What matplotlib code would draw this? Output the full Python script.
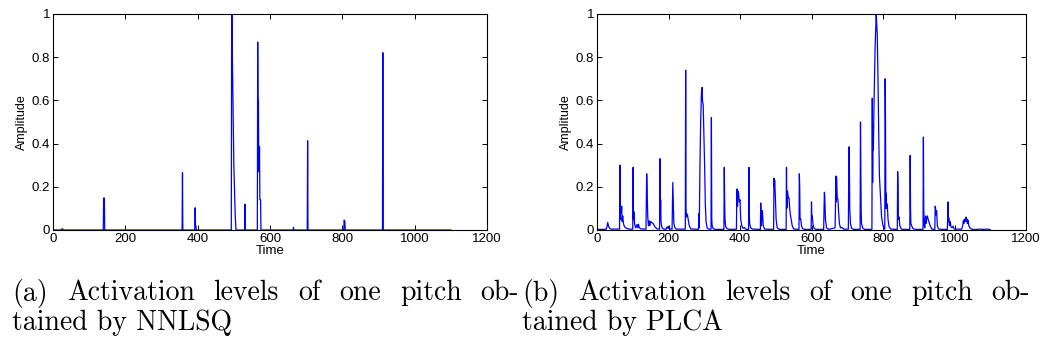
import matplotlib.pyplot as plt

# NNLSQ activations (frame, amplitude) vertices
nnlsq_t = [0, 23, 24, 27, 28, 139, 140, 142, 143, 357, 358, 359, 392, 393, 394, 395, 396,
           493, 494, 495, 496, 500, 504, 506, 530, 531, 532, 565, 566, 567, 568, 569, 570,
           571, 572, 574, 575, 664, 665, 666, 703, 704, 705, 804, 805, 807, 808, 911, 912,
           913, 1100]
nnlsq_a = [0, 0, 0.005, 0.005, 0, 0, 0.148, 0.148, 0, 0, 0.265, 0, 0, 0.103, 0.02, 0.02, 0,
           0, 1.0, 1.0, 0.8, 0.3, 0.06, 0, 0, 0.12, 0, 0, 0.87, 0.5, 0.6, 0.27, 0.27,
           0.385, 0.14, 0.139, 0, 0, 0.012, 0, 0, 0.413, 0, 0, 0.046, 0.04, 0, 0, 0.821,
           0, 0]

# PLCA activations (frame, amplitude) vertices
plca_pts = [
    (0, 0.003), (25, 0.003), (28, 0.015), (30, 0.035), (32, 0.02), (35, 0.008), (40, 0.004),
    (63, 0.004), (64, 0.30), (65, 0.05), (66, 0.11), (68, 0.08), (69, 0.11), (70, 0.04),
    (72, 0.065), (74, 0.03), (77, 0.015), (82, 0.008), (90, 0.004),
    (100, 0.004), (101, 0.29), (102, 0.05), (103, 0.085), (105, 0.03), (108, 0.01),
    (112, 0.025), (114, 0.01), (116, 0.027), (118, 0.012), (122, 0.005),
    (137, 0.004), (139, 0.26), (140, 0.2), (142, 0.06), (144, 0.02), (146, 0.042),
    (148, 0.02), (150, 0.04), (153, 0.035), (157, 0.03), (162, 0.015), (168, 0.005),
    (175, 0.004), (176, 0.33), (177, 0.05), (178, 0.14), (179, 0.04), (181, 0.015),
    (185, 0.005), (193, 0.003), (196, 0.015), (198, 0.008), (200, 0.017), (202, 0.006),
    (210, 0.004), (211, 0.1), (212, 0.22), (213, 0.15), (215, 0.03), (218, 0.01), (222, 0.004),
    (247, 0.004), (248, 0.74), (249, 0.1), (250, 0.06), (251, 0.075), (253, 0.07),
    (255, 0.05), (258, 0.02), (262, 0.005),
    (284, 0.003), (285, 0.077), (286, 0.01), (288, 0.3), (290, 0.5), (292, 0.63),
    (294, 0.66), (295, 0.6), (297, 0.58), (299, 0.45), (301, 0.3), (303, 0.12),
    (305, 0.04), (308, 0.01), (312, 0.004),
    (319, 0.004), (320, 0.52), (321, 0.05), (322, 0.02), (325, 0.006), (330, 0.003),
    (355, 0.003), (356, 0.29), (357, 0.14), (358, 0.05), (360, 0.015), (364, 0.006), (370, 0.003),
    (390, 0.004), (391, 0.15), (392, 0.19), (393, 0.11), (394, 0.18), (396, 0.17),
    (398, 0.13), (400, 0.14), (402, 0.05), (405, 0.02), (408, 0.008), (412, 0.012), (416, 0.004),
    (424, 0.003), (425, 0.29), (426, 0.08), (427, 0.03), (430, 0.01), (435, 0.004),
    (457, 0.003), (458, 0.125), (459, 0.06), (460, 0.02), (462, 0.09), (463, 0.08),
    (465, 0.02), (469, 0.004),
    (494, 0.003), (495, 0.24), (496, 0.2), (497, 0.23), (499, 0.15), (501, 0.05),
    (504, 0.01), (510, 0.003),
    (529, 0.003), (530, 0.29), (531, 0.1), (532, 0.17), (533, 0.18), (535, 0.15),
    (537, 0.15), (539, 0.1), (541, 0.07), (543, 0.05), (546, 0.02), (550, 0.005),
    (565, 0.003), (566, 0.26), (567, 0.2), (568, 0.05), (570, 0.05), (572, 0.02),
    (575, 0.006), (580, 0.003),
    (599, 0.003), (600, 0.13), (601, 0.05), (602, 0.065), (604, 0.03), (607, 0.008), (612, 0.003),
    (634, 0.003), (635, 0.1), (636, 0.175), (637, 0.16), (639, 0.05), (642, 0.01), (648, 0.003),
    (666, 0.01), (667, 0.1), (668, 0.25), (669, 0.13), (670, 0.245), (672, 0.15),
    (674, 0.14), (676, 0.08), (678, 0.03), (681, 0.01), (685, 0.012), (690, 0.004),
    (703, 0.004), (704, 0.2), (705, 0.385), (706, 0.3), (707, 0.1), (709, 0.03),
    (712, 0.008), (718, 0.003),
    (736, 0.003), (737, 0.50), (738, 0.3), (739, 0.08), (740, 0.03), (743, 0.01), (748, 0.003),
    (769, 0.003), (770, 0.61), (771, 0.22), (772, 0.48), (773, 0.37), (775, 0.6),
    (778, 0.85), (781, 1.0), (782, 0.97), (784, 0.9), (786, 0.7), (788, 0.45),
    (790, 0.25), (793, 0.15), (796, 0.06), (800, 0.02), (804, 0.005),
    (805, 0.005), (806, 0.70), (807, 0.5), (808, 0.1), (809, 0.17), (810, 0.1),
    (812, 0.12), (814, 0.05), (817, 0.015), (822, 0.004),
    (840, 0.003), (841, 0.27), (842, 0.2), (843, 0.05), (845, 0.06), (847, 0.02),
    (851, 0.005), (856, 0.003),
    (875, 0.003), (876, 0.345), (877, 0.1), (878, 0.03), (880, 0.02), (884, 0.006), (890, 0.003),
    (912, 0.003), (913, 0.43), (914, 0.1), (915, 0.02), (917, 0.01), (919, 0.065),
    (920, 0.03), (922, 0.05), (924, 0.065), (927, 0.045), (930, 0.03), (933, 0.015), (937, 0.004),
    (945, 0.003), (946, 0.11), (947, 0.1), (948, 0.07), (950, 0.09), (952, 0.02),
    (955, 0.006), (960, 0.003),
    (980, 0.003), (981, 0.07), (982, 0.13), (983, 0.04), (984, 0.055), (986, 0.02),
    (988, 0.04), (990, 0.015), (993, 0.01), (996, 0.018), (999, 0.005), (1003, 0.004),
    (1020, 0.004), (1023, 0.02), (1025, 0.045), (1026, 0.03), (1028, 0.05), (1030, 0.04),
    (1032, 0.06), (1033, 0.04), (1035, 0.05), (1036, 0.03), (1038, 0.045), (1040, 0.02),
    (1044, 0.008), (1050, 0.003), (1060, 0.002), (1070, 0.004), (1080, 0.003),
    (1090, 0.004), (1100, 0.002),
]
plca_t = [p[0] for p in plca_pts]
plca_a = [p[1] for p in plca_pts]

x_ticks = [0, 200, 400, 600, 800, 1000, 1200]
y_ticks = [0, 0.2, 0.4, 0.6, 0.8, 1]
y_labels = ['0', '0.2', '0.4', '0.6', '0.8', '1']

captions = [("(a) Activation levels of one pitch ob-", "tained by NNLSQ"),
            ("(b) Activation levels of one pitch ob-", "tained by PLCA")]

plt.rcParams['font.family'] = 'Liberation Sans'

fig = plt.figure(figsize=(10.48, 3.56), dpi=100)
W, H = 1048, 356
boxes = [(53, 487), (597, 1026)]
series = [(nnlsq_t, nnlsq_a), (plca_t, plca_a)]
cap_span = [(12, 519), (522, 1030)]
cap_fs = 20

renderer = fig.canvas.get_renderer()


def justified(x0, x1, y, line):
    # lay out words so the line fills x0..x1 (LaTeX-like justification)
    words = line.split(' ')
    arts = [fig.text(0, 1 - y / H, w, family='cmr10', fontsize=cap_fs, va='center')
            for w in words]
    widths = [a.get_window_extent(renderer).width for a in arts]
    gap = (x1 - x0 - sum(widths)) / (len(words) - 1)
    x = x0
    for a, w in zip(arts, widths):
        a.set_x(x / W)
        x += w + gap


for i in range(2):
    l, r = boxes[i]
    ax = fig.add_axes([l / W, 1 - 230 / H, (r - l) / W, (230 - 14) / H])
    t, a = series[i]
    ax.plot(t, a, color='#0000ff', lw=0.9)
    ax.set_xlim(0, 1200)
    ax.set_ylim(0, 1)
    ax.set_xticks(x_ticks)
    ax.set_yticks(y_ticks)
    ax.set_yticklabels(y_labels)
    ax.tick_params(direction='in', top=True, right=True, length=3.5, width=0.7,
                   labelsize=9.5, pad=2)
    for s in ax.spines.values():
        s.set_linewidth(0.8)
    ax.set_xlabel('Time', fontsize=9.5, labelpad=0)
    ax.set_ylabel('Amplitude', fontsize=9, labelpad=3)
    x0, x1 = cap_span[i]
    justified(x0, x1, 293, captions[i][0])
    fig.text(x0 / W, 1 - 323 / H, captions[i][1], family='cmr10', fontsize=cap_fs,
             va='center', ha='left')

fig.savefig('out.png', dpi=100)
